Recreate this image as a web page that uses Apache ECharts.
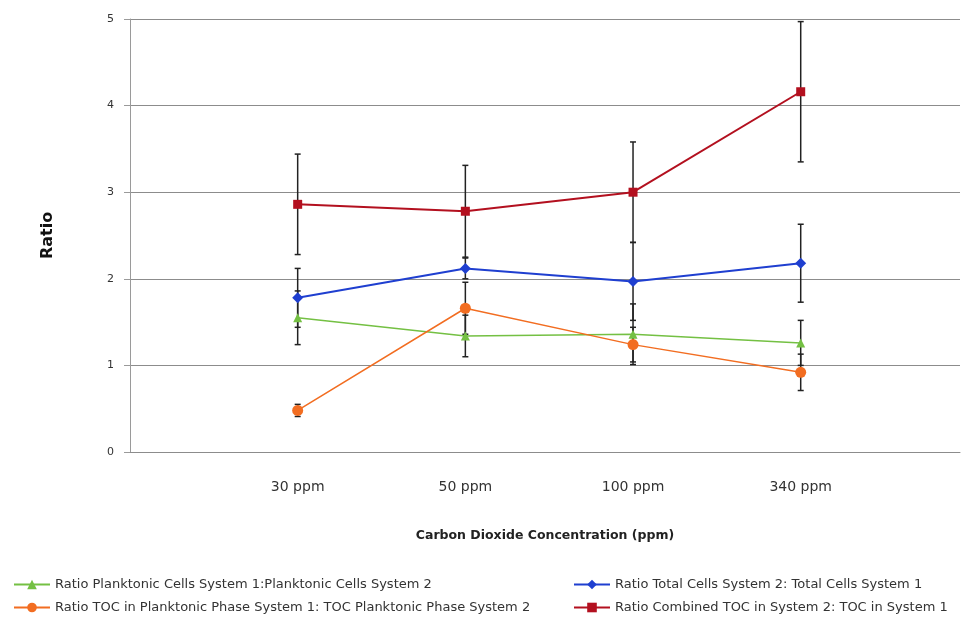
<!DOCTYPE html>
<html>
<head>
<meta charset="utf-8">
<script src="https://cdn.jsdelivr.net/npm/echarts@6/dist/echarts.min.js"></script>
<style>
  html, body { margin: 0; padding: 0; background: #fff; }
  #chart { width: 963px; height: 617px; }
</style>
</head>
<body>
<div id="chart"></div>
<script>
// CO2 concentration levels on the x axis
const categories = ['30 ppm', '50 ppm', '100 ppm', '340 ppm'];

// Ratio values per series
const planktonicCells = [1.55, 1.34, 1.36, 1.26];
const tocPlanktonic   = [0.48, 1.66, 1.24, 0.92];
const totalCells      = [1.78, 2.12, 1.97, 2.18];
const combinedToc     = [2.86, 2.78, 3.00, 4.16];

// Error bar half-widths per series
const planktonicCellsErr = [0.31, 0.24, 0.35, 0.26];
const tocPlanktonicErr   = [0.07, 0.30, 0.20, 0.21];
const totalCellsErr      = [0.34, 0.12, 0.45, 0.45];
const combinedTocErr     = [0.58, 0.53, 0.58, 0.81];

const yTicks = [0, 1, 2, 3, 4, 5];

const seriesDefs = [
  { name: 'Ratio Planktonic Cells System 1:Planktonic Cells System 2', values: planktonicCells, err: planktonicCellsErr, color: '#74c043', symbol: 'triangle', size: 9, width: 1.5 },
  { name: 'Ratio TOC in Planktonic Phase System 1: TOC Planktonic Phase System 2', values: tocPlanktonic, err: tocPlanktonicErr, color: '#f26d21', symbol: 'circle', size: 11, width: 1.5 },
  { name: 'Ratio Total Cells System 2: Total Cells System 1', values: totalCells, err: totalCellsErr, color: '#1f3fd0', symbol: 'diamond', size: 11, width: 2 },
  { name: 'Ratio Combined TOC in System 2: TOC in System 1', values: combinedToc, err: combinedTocErr, color: '#b3101f', symbol: 'rect', size: 9, width: 2 }
];

const font = 'DejaVu Sans';

function errorBarSeries(def) {
  return {
    type: 'custom',
    name: def.name + ' (error)',
    z: 1,
    silent: true,
    data: def.values.map((v, i) => [i, v - def.err[i], v + def.err[i]]),
    renderItem: function (params, api) {
      const x = api.value(0);
      const lo = api.coord([x, api.value(1)]);
      const hi = api.coord([x, api.value(2)]);
      const cap = 3;
      const style = { stroke: '#222', lineWidth: 1.5 };
      return {
        type: 'group',
        children: [
          { type: 'line', shape: { x1: lo[0], y1: lo[1], x2: hi[0], y2: hi[1] }, style: style },
          { type: 'line', shape: { x1: lo[0] - cap, y1: lo[1], x2: lo[0] + cap, y2: lo[1] }, style: style },
          { type: 'line', shape: { x1: hi[0] - cap, y1: hi[1], x2: hi[0] + cap, y2: hi[1] }, style: style }
        ]
      };
    }
  };
}

function lineSeries(def) {
  return {
    type: 'line',
    name: def.name,
    z: 3,
    data: def.values.map((v, i) => [i, v]),
    symbol: def.symbol,
    symbolSize: def.size,
    color: def.color,
    lineStyle: { color: def.color, width: def.width },
    itemStyle: { color: def.color },
    emphasis: { disabled: true }
  };
}

const series = [];
seriesDefs.forEach(d => series.push(errorBarSeries(d)));
seriesDefs.forEach(d => series.push(lineSeries(d)));

const legendBase = {
  orient: 'horizontal',
  itemWidth: 36,
  itemHeight: 12,
  itemGap: 6,
  textStyle: { fontFamily: font, fontSize: 13, color: '#333' },
  selectedMode: false
};

const chart = echarts.init(document.getElementById('chart'), null, { renderer: 'canvas' });
chart.setOption({
  animation: false,
  backgroundColor: '#fff',
  grid: { left: 130, right: 3, top: 19, bottom: 165, containLabel: false },
  xAxis: {
    type: 'value',
    min: -1,
    max: 3.95,
    interval: 1,
    name: 'Carbon Dioxide Concentration (ppm)',
    nameLocation: 'middle',
    nameGap: 77,
    nameTextStyle: { fontFamily: font, fontSize: 12.5, fontWeight: 'bold', color: '#222' },
    axisLine: { show: true, onZero: false, lineStyle: { color: '#8c8c8c', width: 1 } },
    axisTick: { show: false },
    splitLine: { show: false },
    axisLabel: {
      margin: 28,
      fontFamily: font,
      fontSize: 14,
      color: '#333',
      showMaxLabel: false,
      formatter: function (v) {
        return (Number.isInteger(v) && v >= 0 && v < categories.length) ? categories[v] : '';
      }
    }
  },
  yAxis: {
    type: 'value',
    min: yTicks[0],
    max: yTicks[yTicks.length - 1],
    interval: 1,
    name: 'Ratio',
    nameLocation: 'middle',
    nameGap: 74,
    nameRotate: 90,
    nameTextStyle: { fontFamily: font, fontSize: 16, fontWeight: 'bold', color: '#111' },
    axisLine: { show: true, onZero: false, lineStyle: { color: '#9a9a9a', width: 1 } },
    axisTick: { show: true, length: 6, lineStyle: { color: '#9a9a9a' } },
    splitLine: { show: true, lineStyle: { color: '#8c8c8c', width: 1 } },
    axisLabel: { margin: 16, fontFamily: font, fontSize: 11, color: '#333' }
  },
  legend: [
    Object.assign({}, legendBase, { left: 8, top: 573, data: [seriesDefs[0].name] }),
    Object.assign({}, legendBase, { left: 8, top: 596, data: [seriesDefs[1].name] }),
    Object.assign({}, legendBase, { left: 568, top: 573, data: [seriesDefs[2].name] }),
    Object.assign({}, legendBase, { left: 568, top: 596, data: [seriesDefs[3].name] })
  ],
  series: series
});
</script>
</body>
</html>
